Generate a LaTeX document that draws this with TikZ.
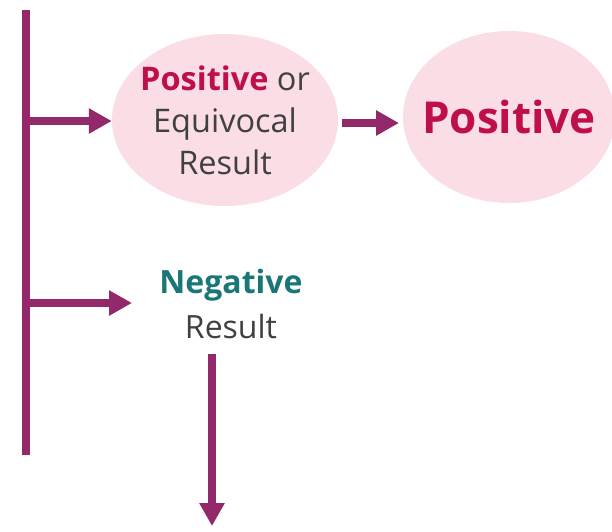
\documentclass[tikz,border=0pt]{standalone}
\usepackage{fontspec}
\setmainfont{Open Sans}
\usetikzlibrary{arrows.meta,shapes.geometric}
\definecolor{arr}{HTML}{93296A}
\definecolor{pinkfill}{HTML}{FBDDE6}
\definecolor{crim}{HTML}{BE0E4C}
\definecolor{teal1}{HTML}{1B7678}
\definecolor{txt}{HTML}{404040}
\begin{document}
\begin{tikzpicture}[x=1pt,y=-1pt]
\useasboundingbox (0,0) rectangle (612,531);
\tikzset{
  conn/.style={draw=arr, line width=8pt, -{Triangle[length=23pt,width=24pt]}},
  trunk/.style={draw=arr, line width=8pt},
  oval/.style={ellipse, fill=pinkfill, minimum width=226pt, minimum height=172pt, inner sep=-20pt, align=center, text=txt, font=\fontsize{32.5}{42}\selectfont},
  plain/.style={align=center, text=txt, font=\fontsize{32}{45}\selectfont}
}
\node[oval] (pe) at (225,120) {\textbf{\textcolor{crim}{Positive}} or\\Equivocal\\Result};
\node[oval, minimum width=212pt, font=\fontsize{44}{50}\selectfont\bfseries, text=crim] (pos) at (509,117) {Positive};
\node[plain] (neg) at (231,304) {\textbf{\textcolor{teal1}{Negative}}\\Result};
\coordinate (top) at (26,10);
\coordinate (bot) at (26,455);
\coordinate (b1) at (26,121);
\coordinate (b3) at (26,303);
\coordinate (t3) at (132,303);
\coordinate (s2) at (342,123);
\coordinate (t2) at (399,123);
\coordinate (s4) at (212,354);
\coordinate (t4) at (212,526);
\draw[trunk] (top) -- (bot);
\draw[conn] (b1) -- (b1 -| pe.west);
\draw[conn] (s2) -- (t2);
\draw[conn] (b3) -- (t3);
\draw[conn] (s4) -- (t4);
\end{tikzpicture}
\end{document}
